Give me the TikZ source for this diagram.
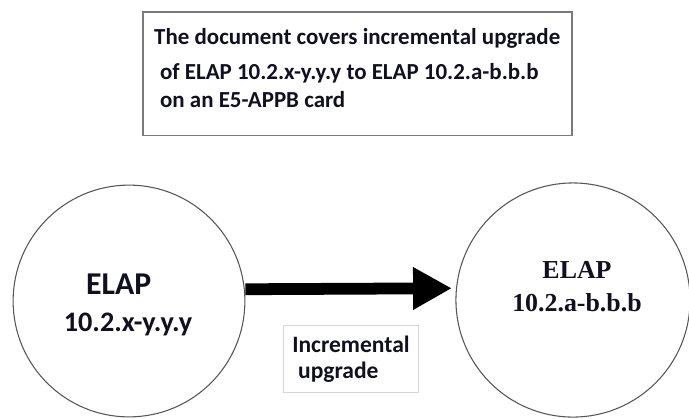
\documentclass[tikz,border=0pt]{standalone}
\usepackage{fontspec}
\setmainfont{Carlito}
\newfontfamily\elapserif{Liberation Serif}
\definecolor{elapFrame}{HTML}{7A7A7A}
\definecolor{elapRing}{HTML}{555555}
\definecolor{elapLight}{HTML}{D6D6D6}
\definecolor{elapInk}{HTML}{101020}
\usetikzlibrary{arrows.meta, positioning, calc}

\begin{document}
\begin{tikzpicture}[x=0.85pt, y=-0.85pt, every node/.style={text=elapInk},
  ring/.style={circle, draw=elapRing, line width=0.9pt, minimum size=#1},
  upgradearrow/.style={line width=10pt, -{Triangle[length=33pt, width=34pt]}}]
  \useasboundingbox (0,0) rectangle (689,418);

  % summary box on top
  \node[draw=elapFrame, line width=1.6pt, minimum width=365pt, minimum height=105pt,
    anchor=north west] (note) at (142,11) {};
  \node[anchor=north west, align=left, inner sep=0pt,
    font=\bfseries\fontsize{19.5}{24}\selectfont] (notetext) at (154,28) {
    The document covers incremental upgrade\\[6pt]
    \hspace*{5pt}of ELAP 10.2.x-y.y.y to ELAP 10.2.a-b.b.b\\
    \hspace*{5pt}on an E5-APPB card};

  % the two releases
  \node[ring=197pt] (src) at (129,301) {};
  \node[align=left, inner sep=0pt, font=\bfseries\fontsize{24}{31}\selectfont]
    (srctext) at (128,305) {\hspace*{19pt}{\fontsize{27}{31}\selectfont ELAP}\\10.2.x-y.y.y};
  \node[ring=199pt] (dst) at (573,300) {};
  \node[align=center, inner sep=0pt, font=\elapserif\bfseries\fontsize{22}{28}\selectfont]
    (dsttext) at (577,287) {ELAP\\10.2.a-b.b.b};

  \draw[upgradearrow, shorten >=3pt] ([yshift=10pt]src.east) -- ([yshift=10pt]dst.west);

  \node[draw=elapLight, line width=0.8pt, minimum width=114pt, minimum height=57pt,
    align=left, font=\bfseries\fontsize{20}{22}\selectfont] (step) at (351,359)
    {Incremental\\\hspace*{5pt}upgrade};
\end{tikzpicture}
\end{document}
